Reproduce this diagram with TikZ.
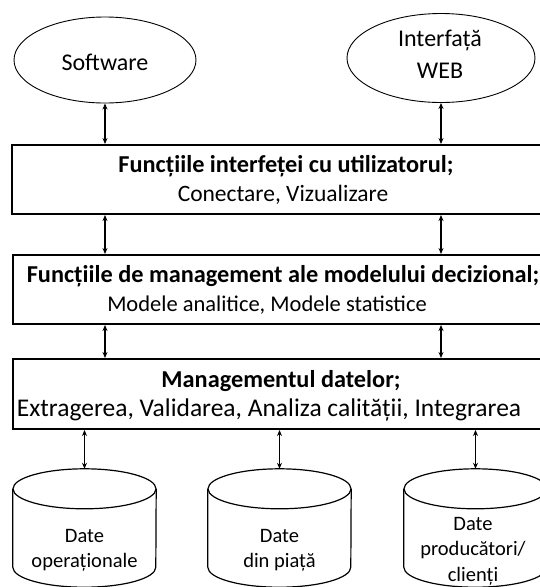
\documentclass[tikz,border=0pt]{standalone}
\usepackage{fontspec}
\setmainfont{Carlito}
\usetikzlibrary{shapes.geometric,arrows.meta,calc}
\begin{document}
\begin{tikzpicture}[x=1pt,y=-1pt,
  oval/.style={ellipse, draw, line width=0.9pt, inner sep=0pt},
  otext/.style={align=center, font=\fontsize{24}{32}\selectfont, inner sep=0pt},
  layer/.style={draw, line width=2pt, minimum height=69pt, minimum width=538pt, inner sep=0pt},
  ltext/.style={anchor=base, font=\fontsize{24.5}{29}\selectfont, inner sep=0pt},
  btext/.style={anchor=base, font=\fontsize{24.3}{29}\selectfont\bfseries, inner sep=0pt},
  link/.style={{Stealth[length=6pt,width=5pt]}-{Stealth[length=6pt,width=5pt]}, line width=1.3pt},
  dbtext/.style={align=center, font=\fontsize{20.5}{25}\selectfont, inner sep=0pt},
  db/.style={minimum width=143pt, minimum height=118pt, inner sep=0pt},
  cyl/.style={line width=1.2pt}
]
\useasboundingbox (0,0) rectangle (539,587);
\node[oval, minimum width=182pt, minimum height=86pt] (sw) at (105,60) {};
\node[otext] (swt) at (105,62) {Software};
\node[oval, minimum width=188pt, minimum height=89pt] (web) at (441,58) {};
\node[otext] (webt) at (440,54) {Interfață\\WEB};

\node[layer] (b1) at (281,179.5) {};
\node[btext] (t1a) at (286,172) {Funcțiile interfeței cu utilizatorul;};
\node[ltext, font=\fontsize{23.5}{29}\selectfont] (t1b) at (283,201) {Conectare, Vizualizare};
\node[layer] (b2) at (282,289.5) {};
\node[btext] (t2a) at (283,282) {Funcțiile de management ale modelului decizional;};
\node[ltext, font=\fontsize{22.5}{29}\selectfont] (t2b) at (267,311) {Modele analitice, Modele statistice};
\node[layer, minimum height=70pt] (b3) at (282,394) {};
\node[btext] (t3a) at (281,387) {Managementul datelor;};
\node[ltext, font=\fontsize{25.5}{29}\selectfont] (t3b) at (269,416) {Extragerea, Validarea, Analiza calității, Integrarea};

\draw[link] (sw.south) -- (sw.south |- b1.north);
\draw[link] (web.south) -- (web.south |- b1.north);
\draw[link] (b1.south -| sw.south) -- (b2.north -| sw.south);
\draw[link] (b1.south -| web.south) -- (b2.north -| web.south);
\draw[link] (b2.south -| sw.south) -- (b3.north -| sw.south);
\draw[link] (b2.south -| web.south) -- (b3.north -| web.south);

\node[db] (c1) at (84.5,528) {};
\node[db] (c2) at (279.5,528) {};
\node[db] (c3) at (475.5,528) {};
\foreach \c in {c1,c2,c3}{
  \draw[cyl] ($(\c.north)+(0,20)$) ellipse [x radius=71.5pt, y radius=20pt];
  \draw[cyl] ($(\c.north west)+(0,20)$) -- ($(\c.south west)+(0,-20)$)
     arc[start angle=180, end angle=360, x radius=71.5pt, y radius=20pt]
     -- ($(\c.north east)+(0,20)$);
  \draw[link] (b3.south -| \c.north) -- (\c.north);
}
\node[dbtext] (d1) at (84.5,550.5) {Date\\operaționale};
\node[dbtext] (d2) at (279.5,550.5) {Date\\din piață};
\node[dbtext, font=\fontsize{20.5}{25.5}\selectfont] (d3) at (473,551) {Date\\producători/\\clienți};
\end{tikzpicture}
\end{document}
